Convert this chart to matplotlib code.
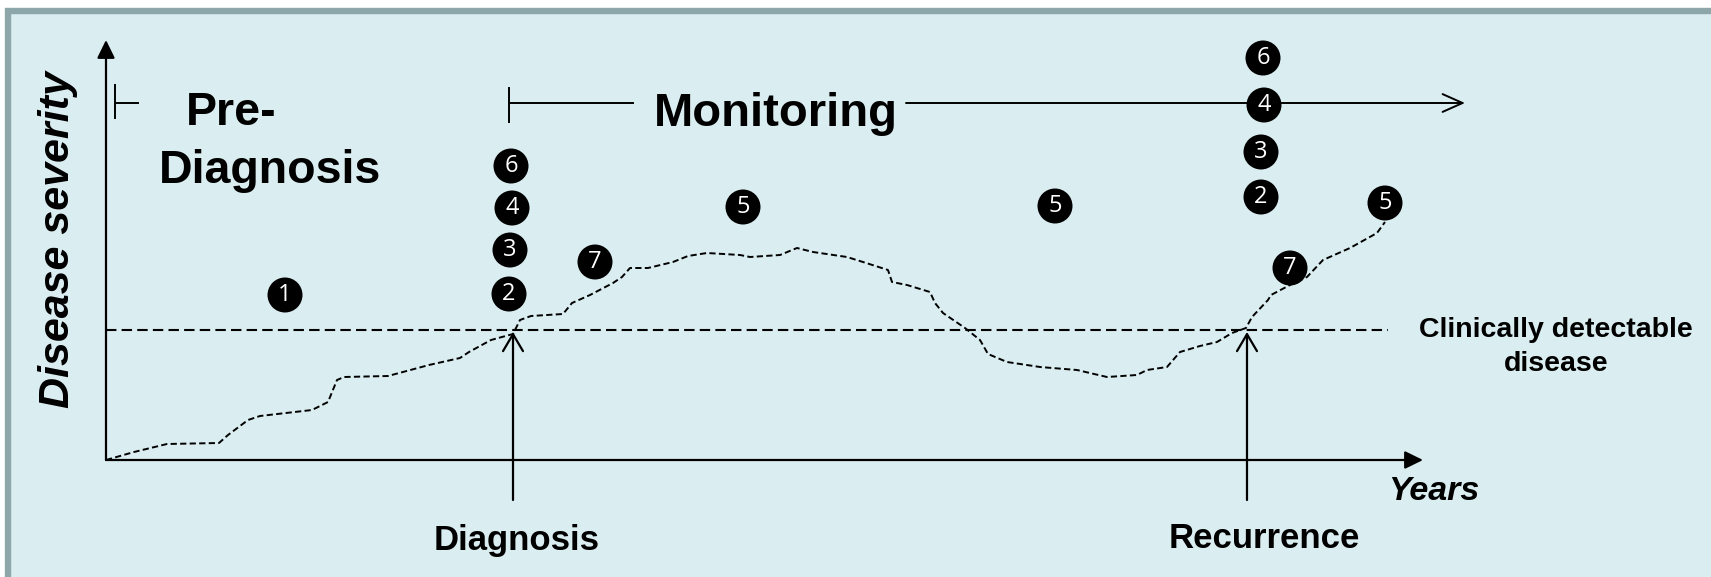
import matplotlib
matplotlib.use("Agg")
from matplotlib import pyplot as plt
from matplotlib.patches import Circle, FancyBboxPatch

# disease course (time, severity) in schematic units
years = [0, 28, 61, 113, 122, 142, 154, 180, 206, 222, 231, 238, 282, 323, 354, 363,
         385, 407, 414, 425, 457, 466, 484, 507, 516, 524, 542, 567, 582, 601, 634,
         644, 674, 691, 707, 741, 757, 782, 786, 801, 824, 829, 837, 859, 874, 882,
         901, 934, 971, 1001, 1031, 1041, 1061, 1074, 1094, 1111, 1126, 1140, 1146,
         1162, 1165, 1184, 1201, 1217, 1244, 1271, 1279]
severity = [0, 8, 16, 17, 25, 40, 44, 47, 50, 58, 80, 83, 84, 95, 102, 108,
            120, 126, 140, 144, 146, 157, 165, 177, 183, 192, 192, 198, 204, 207, 205,
            203, 205, 212, 208, 203, 198, 190, 178, 175, 168, 157, 147, 132, 120, 106,
            98, 93, 90, 83, 85, 90, 93, 108, 114, 118, 127, 132, 143,
            160, 165, 175, 183, 200, 212, 227, 238]

threshold = 130
diagnosis_t = 407
recurrence_t = 1141

# numbered steps
step_labels = ['1', '2', '3', '4', '6', '7', '5', '5', '6', '4', '3', '2', '7', '5']
step_t = [179, 403, 404, 406, 405, 489, 637, 949, 1157, 1158, 1155, 1155, 1184, 1279]
step_s = [165, 166, 210, 252, 294, 198, 253, 254, 402, 355, 308, 263, 192, 257]

FONT = ['Liberation Sans', 'DejaVu Sans']

fig = plt.figure(figsize=(17.11, 5.77), dpi=100)
fig.patch.set_facecolor('white')

# panel with border (only top/left visible), in figure-fraction coords
W, H = 1711, 577
bg = FancyBboxPatch((8 / W, -0.2), 1.5, 1.2 - 10.5 / H, boxstyle="square,pad=0",
                    transform=fig.transFigure, facecolor='#daedf0', edgecolor='#8ca6a9',
                    linewidth=4.6, zorder=-10)
fig.patches.append(bg)

ax = fig.add_axes([106 / W, 117 / H, 1318 / W, 420 / H])
ax.set_zorder(5)
ax.set_xlim(0, 1318)
ax.set_ylim(0, 420)
ax.axis('off')

# axes arrows
ax.annotate('', xy=(0, 420), xytext=(0, 0),
            arrowprops=dict(arrowstyle='-|>,head_length=0.55,head_width=0.27', lw=1.6,
                            color='black', shrinkA=0, shrinkB=0, mutation_scale=20),
            annotation_clip=False)
ax.annotate('', xy=(1317, 0), xytext=(0, 0),
            arrowprops=dict(arrowstyle='-|>,head_length=0.55,head_width=0.27', lw=1.6,
                            color='black', shrinkA=0, shrinkB=0, mutation_scale=20),
            annotation_clip=False)

# clinical threshold
ax.plot([0, 1282], [threshold, threshold], color='black', lw=1.5,
        linestyle=(0, (5, 2.5)), clip_on=False)

# disease course
ax.plot(years, severity, color='black', lw=1.4, linestyle=(0, (3.2, 1.7)), clip_on=False)

# diagnosis / recurrence arrows
for t in (diagnosis_t, recurrence_t):
    ax.annotate('', xy=(t, threshold - 2), xytext=(t, -40),
                arrowprops=dict(arrowstyle='->,head_length=0.61,head_width=0.36', lw=1.6,
                                color='black', shrinkA=0, shrinkB=0, mutation_scale=20),
                annotation_clip=False)

# phase brackets
ax.plot([9, 9], [342, 375], color='black', lw=1.4, clip_on=False)
ax.plot([9, 32], [357, 357], color='black', lw=1.4, clip_on=False)
ax.plot([403, 403], [338, 372], color='black', lw=1.4, clip_on=False)
ax.plot([403, 527], [357, 357], color='black', lw=1.4, clip_on=False)
ax.annotate('', xy=(1359, 357), xytext=(800, 357),
            arrowprops=dict(arrowstyle='->,head_length=0.72,head_width=0.32', lw=1.4,
                            color='black', shrinkA=0, shrinkB=0, mutation_scale=20),
            annotation_clip=False)

# step markers
for lab, t, s in zip(step_labels, step_t, step_s):
    ax.add_patch(Circle((t, s), 17.5, facecolor='black', edgecolor='none', zorder=5, clip_on=False))
    ax.text(t, s, lab, color='white', fontsize=17, family=['Open Sans', 'DejaVu Sans'],
            ha='center', va='center', zorder=6)

# texts
ax.text(80, 335, 'Pre-', fontsize=33.5, fontweight='bold', family=FONT, ha='left', va='baseline')
ax.text(53, 277, 'Diagnosis', fontsize=33.5, fontweight='bold', family=FONT, ha='left', va='baseline')
ax.text(670, 334, 'Monitoring', fontsize=34, fontweight='bold', family=FONT, ha='center', va='baseline')
ax.text(-48, 220, 'Disease severity', fontsize=31, fontweight='bold', fontstyle='italic',
        family=FONT, rotation=90, ha='center', va='center')
ax.text(411, -90, 'Diagnosis', fontsize=25, fontweight='bold', family=FONT, ha='center', va='baseline')
ax.text(1158, -88, 'Recurrence', fontsize=25, fontweight='bold', family=FONT, ha='center', va='baseline')
ax.text(1282, -40, 'Years', fontsize=24.5, fontweight='bold', fontstyle='italic', family=FONT,
        ha='left', va='baseline')
ax.text(1450, 123, 'Clinically detectable', fontsize=20.5, fontweight='bold', family=FONT,
        ha='center', va='baseline')
ax.text(1450, 89, 'disease', fontsize=20.5, fontweight='bold', family=FONT,
        ha='center', va='baseline')

fig.savefig('out.png', dpi=100, facecolor=fig.get_facecolor())
